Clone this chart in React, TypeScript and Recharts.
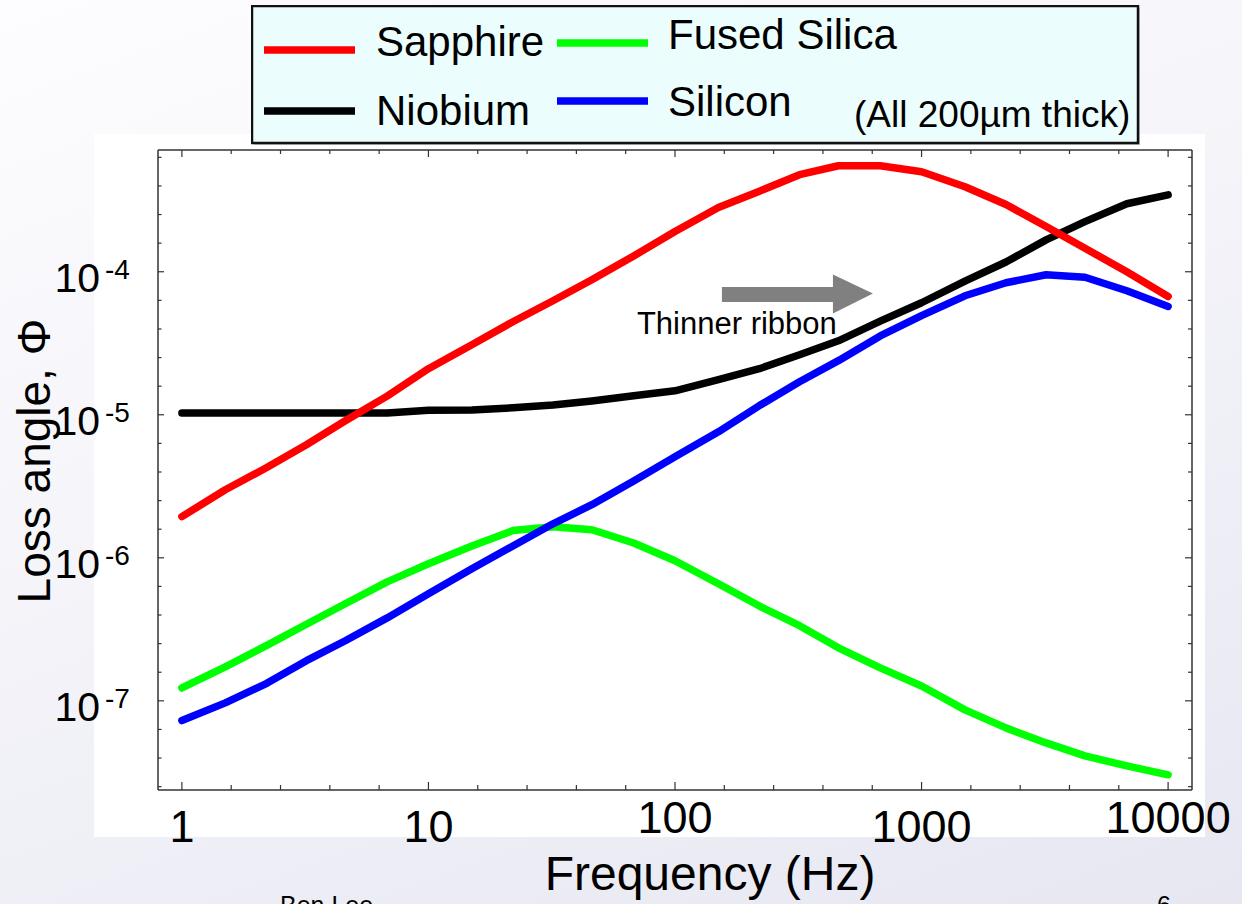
import { LineChart, Line, XAxis, YAxis, Legend, ReferenceDot } from 'recharts';

// frequency grid (Hz) and loss angle per material
const freqs = [1, 1.5, 2.2, 3.2, 4.6, 6.8, 10, 15, 22, 32, 46, 68, 100, 150, 220, 320, 460, 680, 1000, 1500, 2200, 3200, 4600, 6800, 10000];

const sapphire = [1.94e-6, 2.99e-6, 4.26e-6, 6.17e-6, 9.08e-6, 1.35e-5, 2.1e-5, 3.09e-5, 4.47e-5, 6.27e-5, 8.79e-5, 1.29e-4, 1.91e-4, 2.81e-4, 3.66e-4, 4.77e-4, 5.51e-4, 5.51e-4, 5.0e-4, 3.93e-4, 2.95e-4, 2.07e-4, 1.46e-4, 1.0e-4, 6.72e-5];
const niobium = [1.03e-5, 1.03e-5, 1.03e-5, 1.03e-5, 1.03e-5, 1.03e-5, 1.075e-5, 1.08e-5, 1.12e-5, 1.17e-5, 1.25e-5, 1.36e-5, 1.47e-5, 1.76e-5, 2.1e-5, 2.63e-5, 3.29e-5, 4.51e-5, 6.07e-5, 8.59e-5, 1.17e-4, 1.67e-4, 2.24e-4, 2.99e-4, 3.45e-4];
const fusedSilica = [1.23e-7, 1.73e-7, 2.43e-7, 3.43e-7, 4.77e-7, 6.79e-7, 9.08e-7, 1.21e-6, 1.55e-6, 1.65e-6, 1.57e-6, 1.27e-6, 9.53e-7, 6.58e-7, 4.6e-7, 3.35e-7, 2.35e-7, 1.7e-7, 1.27e-7, 8.65e-8, 6.47e-8, 5.08e-8, 4.12e-8, 3.51e-8, 3.04e-8];
const silicon = [7.28e-8, 9.68e-8, 1.32e-7, 1.91e-7, 2.63e-7, 3.8e-7, 5.6e-7, 8.38e-7, 1.21e-6, 1.73e-6, 2.35e-6, 3.45e-6, 5.08e-6, 7.6e-6, 1.16e-5, 1.7e-5, 2.39e-5, 3.56e-5, 4.93e-5, 6.79e-5, 8.38e-5, 9.53e-5, 9.15e-5, 7.36e-5, 5.72e-5];

const xMajorTicks = [1, 10, 100, 1000, 10000];
const xTickLabels = ['1', '10', '100', '1000', '10000'];
const yMajorTicks = [1e-7, 1e-6, 1e-5, 1e-4];
const yTickExponents = ['-7', '-6', '-5', '-4'];

const xDomain = [0.8, 12500];
const yDomain = [2.38e-8, 7.1e-4];

// minor ticks every 0.2 decade
const xTicks = Array.from({ length: 21 }, (_, i) => Math.pow(10, i * 0.2));
const yTicks = Array.from({ length: 23 }, (_, i) => Math.pow(10, -7.6 + i * 0.2));

const data = freqs.map((f, i) => ({
  f,
  sapphire: sapphire[i],
  niobium: niobium[i],
  fusedSilica: fusedSilica[i],
  silicon: silicon[i],
}));

const FONT = 'Liberation Sans, Arial, Helvetica, sans-serif';
const AXIS = '#333';
const xLabelDy = [0, 0, -9, 0, -9];

const isMajor = (v: number) => {
  const l = Math.log10(v);
  return Math.abs(l - Math.round(l)) < 1e-6;
};
const findIdx = (arr: number[], v: number) =>
  arr.findIndex((m) => Math.abs(Math.log10(m) - Math.log10(v)) < 1e-6);

const BottomTick = ({ x, y, payload }: any) => {
  const major = isMajor(payload.value);
  const i = findIdx(xMajorTicks, payload.value);
  return (
    <g>
      <line x1={x} x2={x} y1={y} y2={y - (major ? 8 : 5)} stroke={AXIS} strokeWidth={1.2} />
      {i >= 0 && (
        <text x={x} y={y + 52 + xLabelDy[i]} textAnchor="middle" fontSize={45} fontFamily={FONT} fill="#000">
          {xTickLabels[i]}
        </text>
      )}
    </g>
  );
};

const TopTick = ({ x, y, payload }: any) => (
  <line x1={x} x2={x} y1={y} y2={y + (isMajor(payload.value) ? 7 : 4)} stroke={AXIS} strokeWidth={1.2} />
);

const LeftTick = ({ x, y, payload }: any) => {
  const i = findIdx(yMajorTicks, payload.value);
  return (
    <g>
      <line x1={x} x2={x + (i >= 0 ? 6 : 3.5)} y1={y} y2={y} stroke={AXIS} strokeWidth={1.2} />
      {i >= 0 && (
        <g fontFamily={FONT} fill="#000">
          <text x={x - 58} y={y + 20} textAnchor="end" fontSize={41}>10</text>
          <text x={x - 53} y={y + 7} fontSize={28}>{yTickExponents[i]}</text>
        </g>
      )}
    </g>
  );
};

const RightTick = ({ x, y, payload }: any) => (
  <line x1={x} x2={x - (isMajor(payload.value) ? 7 : 4)} y1={y} y2={y} stroke={AXIS} strokeWidth={1.2} />
);

const legendSlots: Record<string, { lx: number; ly: number; tx: number; ty: number }> = {
  Sapphire: { lx: 13, ly: 45, tx: 125, ty: 51 },
  Niobium: { lx: 13, ly: 106, tx: 125, ty: 120 },
  'Fused Silica': { lx: 306, ly: 38, tx: 417, ty: 44 },
  Silicon: { lx: 306, ly: 96, tx: 417, ty: 111 },
};

const renderLegend = ({ payload }: any) => (
  <svg width={894} height={144} style={{ display: 'block' }}>
    <rect x={3} y={3} width={886} height={137} fill="#c4c4cc" />
    <rect x={1} y={1} width={886} height={137} fill="#ecfdfd" stroke="#111" strokeWidth={2.5} />
    {(payload || []).map((p: any) => {
      const s = legendSlots[p.value];
      if (!s) return null;
      return (
        <g key={p.value}>
          <line x1={s.lx} x2={s.lx + 91} y1={s.ly} y2={s.ly} stroke={p.color} strokeWidth={7.5} />
          <text x={s.tx} y={s.ty} fontSize={42} fontFamily={FONT} fill="#000">{p.value}</text>
        </g>
      );
    })}
    <text x={603} y={122} fontSize={37} fontFamily={FONT} fill="#000">(All 200µm thick)</text>
  </svg>
);

const xTitle = ({ viewBox }: any) => (
  <text x={viewBox.x + viewBox.width / 2 + 35} y={viewBox.y + 100} textAnchor="middle" fontSize={48} fontFamily={FONT} fill="#000">
    Frequency (Hz)
  </text>
);

const yTitle = ({ viewBox }: any) => {
  const cx = viewBox.x - 48;
  const cy = viewBox.y + viewBox.height / 2 - 9;
  return (
    <text x={cx} y={cy} transform={`rotate(-90, ${cx}, ${cy})`} textAnchor="middle" fontSize={46} fontFamily={FONT} fill="#000">
      Loss angle, Φ
    </text>
  );
};

const arrowShape = ({ cx, cy }: any) => (
  <g>
    <polygon
      points={`${cx},${cy - 7.5} ${cx + 111},${cy - 7.5} ${cx + 111},${cy - 20} ${cx + 151},${cy - 1} ${cx + 111},${cy + 19} ${cx + 111},${cy + 7.5} ${cx},${cy + 7.5}`}
      fill="#808080"
    />
    <text x={cx - 85} y={cy + 40} fontSize={31} fontFamily={FONT} fill="#000">Thinner ribbon</text>
  </g>
);

const lineProps = {
  type: 'linear' as const,
  dot: false,
  strokeWidth: 7.5,
  strokeLinecap: 'round' as const,
  strokeLinejoin: 'round' as const,
  isAnimationActive: false,
};

export default function App() {
  return (
    <div
      style={{
        position: 'absolute',
        left: 0,
        top: 0,
        width: 1242,
        height: 904,
        overflow: 'hidden',
        background: 'linear-gradient(160deg, #fdfdff 0%, #f5f5fa 40%, #e7e7f2 100%)',
        fontFamily: FONT,
      }}
    >
      <div style={{ position: 'absolute', left: 94, top: 134, width: 1111, height: 703, background: '#fff' }} />
      <div style={{ position: 'absolute', left: 0, top: 0 }}>
        <LineChart width={1242} height={904} data={data} margin={{ top: 140, right: 40, bottom: 84, left: 98 }}>
          <XAxis
            dataKey="f"
            type="number"
            scale="log"
            domain={xDomain}
            allowDataOverflow
            ticks={xTicks}
            interval={0}
            tickSize={0}
            tickMargin={0}
            tickLine={false}
            tick={BottomTick}
            height={30}
            axisLine={{ stroke: AXIS, strokeWidth: 1.5 }}
            label={xTitle}
          />
          <XAxis
            xAxisId="top"
            orientation="top"
            dataKey="f"
            type="number"
            scale="log"
            domain={xDomain}
            allowDataOverflow
            ticks={xTicks}
            interval={0}
            tickSize={0}
            tickMargin={0}
            tickLine={false}
            tick={TopTick}
            height={10}
            axisLine={{ stroke: AXIS, strokeWidth: 1.5 }}
          />
          <YAxis
            type="number"
            scale="log"
            domain={yDomain}
            allowDataOverflow
            ticks={yTicks}
            interval={0}
            tickSize={0}
            tickMargin={0}
            tickLine={false}
            tick={LeftTick}
            width={60}
            axisLine={{ stroke: AXIS, strokeWidth: 1.5 }}
            label={yTitle}
          />
          <YAxis
            yAxisId="right"
            orientation="right"
            type="number"
            scale="log"
            domain={yDomain}
            allowDataOverflow
            ticks={yTicks}
            interval={0}
            tickSize={0}
            tickMargin={0}
            tickLine={false}
            tick={RightTick}
            width={10}
            axisLine={{ stroke: AXIS, strokeWidth: 1.5 }}
          />
          <Legend
            verticalAlign="middle"
            align="center"
            layout="horizontal"
            wrapperStyle={{ left: 251, top: 5, width: 894, height: 144 }}
            content={renderLegend}
          />
          <Line {...lineProps} dataKey="niobium" name="Niobium" stroke="#000000" />
          <Line {...lineProps} dataKey="fusedSilica" name="Fused Silica" stroke="#00ff00" />
          <Line {...lineProps} dataKey="silicon" name="Silicon" stroke="#0000ff" />
          <Line {...lineProps} dataKey="sapphire" name="Sapphire" stroke="#ff0000" />
          <ReferenceDot x={155} y={6.94e-5} r={0} shape={arrowShape} />
        </LineChart>
      </div>
      <svg width={1242} height={904} style={{ position: 'absolute', left: 0, top: 0, pointerEvents: 'none' }}>
        <text x={280} y={914} fontSize={25} fontFamily={FONT} fill="#000">Ben Lee</text>
        <text x={1157} y={914} fontSize={25} fontFamily={FONT} fill="#000">6</text>
      </svg>
    </div>
  );
}
